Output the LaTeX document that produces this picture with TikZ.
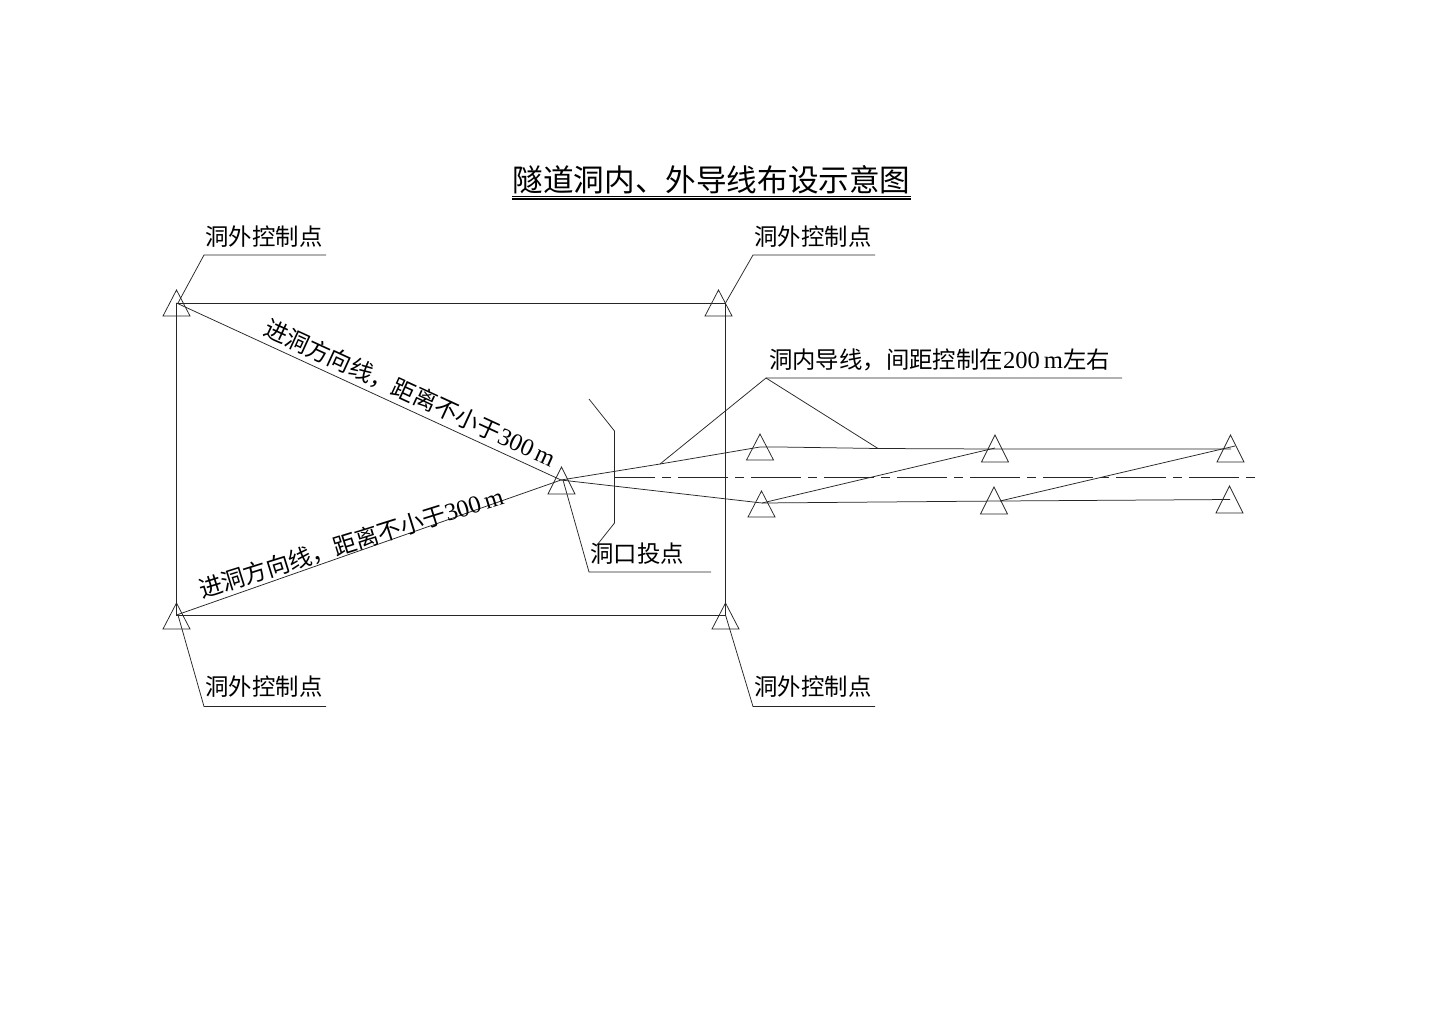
\documentclass[tikz,border=0pt]{standalone}
\usepackage{fontspec}
\setmainfont{Noto Sans CJK SC}
\newfontfamily\latinf{Liberation Serif}
\newcommand{\dg}[1]{{\latinf\fontsize{24.6}{24.6}\selectfont #1\kern4pt m}}
\newcommand{\thrh}{\dg{300}}
\newcommand{\twoh}{\dg{200}}
\tikzset{
  x=1pt,y=-1pt,
  ln/.style={line width=0.75pt,draw=black!85},
  lbl/.style={inner sep=0pt,font=\fontsize{23.4}{23.4}\selectfont,text=black},
  ttl/.style={inner sep=0pt,font=\fontsize{30.6}{30.6}\selectfont,text=black},
  tri/.style={ln},
  cline/.style={ln,dash pattern=on 50pt off 7pt on 9pt off 7pt,dash phase=9pt}
}
\newcommand{\tria}[3]{\draw[tri] (#1,#2) -- (#1-13.5,#2+#3) -- (#1+13.5,#2+#3) -- cycle;}
\begin{document}
\begin{tikzpicture}
\useasboundingbox (0,0) rectangle (1431,1012);
\fill[white] (0,0) rectangle (1431,1012);
% control frame
\coordinate (tl) at (176.5,303);
\coordinate (tr) at (725.5,303);
\coordinate (bl) at (176.5,615);
\coordinate (br) at (725.5,615);
\coordinate (mid) at (561,480);
\draw[ln] (tl) -- (tr) -- (br) -- (bl) -- cycle;
\draw[ln] (tl) -- (mid) -- (bl);
% triangles
\tria{176.5}{290}{26}
\tria{718.5}{290}{26}
\tria{176.5}{603}{26}
\tria{725.5}{603}{26}
\tria{561.5}{467}{27}
\tria{760}{434}{26}
\tria{761.5}{491}{26}
\tria{995}{435}{27}
\tria{994}{487}{27}
\tria{1230.5}{435}{27}
\tria{1229.5}{486}{27}
% traverse
\coordinate (up) at (660,464);
\coordinate (ua) at (878,448.5);
\coordinate (lo) at (762,503);
\draw[ln] (mid) -- (up) -- (760,447) -- (780,447) -- (ua) -- (995,449) -- (1231,449);
\draw[ln] (mid) -- (lo) -- (1000,501) -- (1230,499.5);
\draw[ln] (lo) -- (995,448);
\draw[ln] (1000,501) -- (1235,446);
% centre line
\draw[cline] (614,477.5) -- (1257,477.5);
% portal
\draw[ln] (589,399) -- (614.5,431) -- (614.5,523) -- (597,545);
% leaders
\draw[ln] (tl) ++(1.5,0) -- (204,255) -- (326,255);
\draw[ln] (tr) -- (753,255) -- (875,255);
\draw[ln] (bl) ++(1.5,0) -- (204,706.5) -- (326,706.5);
\draw[ln] (br) -- (753,706.5) -- (875,706.5);
\draw[ln] (mid) ++(2,0) -- (589,572) -- (711,572);
\draw[ln] (up) -- (766,378) -- (1122,378);
\draw[ln] (766,378) -- (ua);
% title
\node[ttl] (title) at (711.5,180) {隧道洞内、外导线布设示意图};
\draw[line width=1.1pt] (512,196.5) -- (911,196.5);
\draw[line width=1.1pt] (512,199) -- (911,199);
% labels
\node[lbl] (a) at (264,236.5) {洞外控制点};
\node[lbl] (b) at (813,236.5) {洞外控制点};
\node[lbl] (c) at (264,686.5) {洞外控制点};
\node[lbl] (d) at (813,686.5) {洞外控制点};
\node[lbl] (e) at (637,553.5) {洞口投点};
\node[lbl] (f) at (939.5,360) {洞内导线，间距控制在\twoh 左右};
\node[lbl,rotate=-24.7] (g) at (410,393) {进洞方向线，距离不小于\thrh};
\node[lbl,rotate=17.4] (h) at (351,543) {进洞方向线，距离不小于\thrh};
\end{tikzpicture}
\end{document}
